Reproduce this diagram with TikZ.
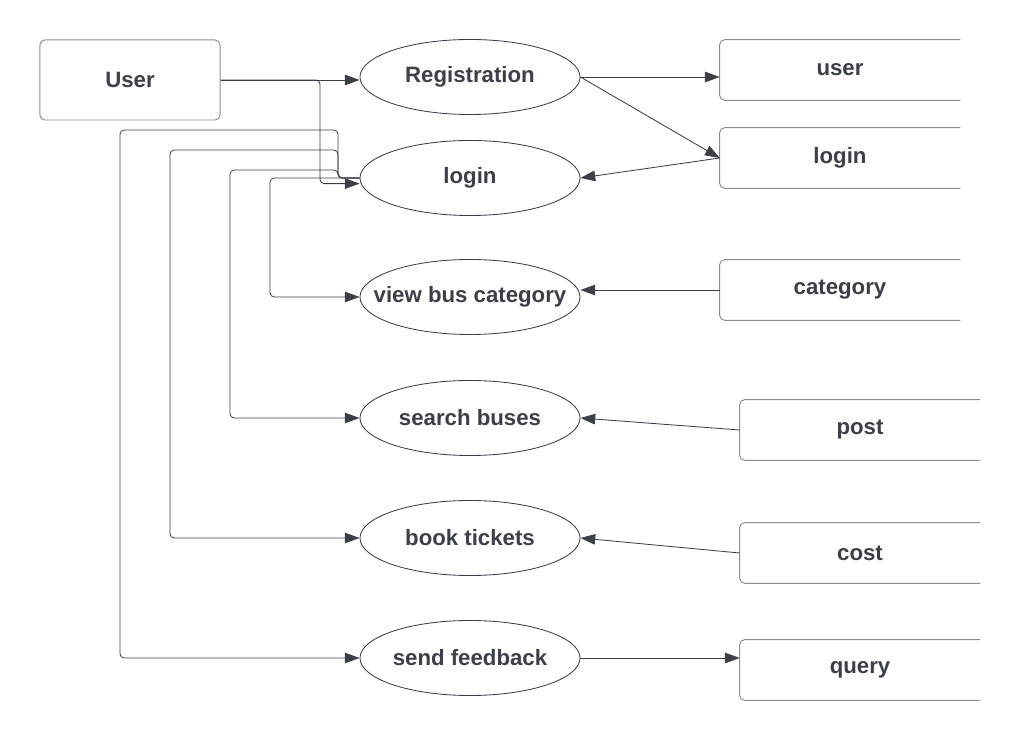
\documentclass[tikz,border=0pt]{standalone}
\usepackage{fontspec}
\setmainfont{Liberation Sans}
\usetikzlibrary{shapes.geometric,arrows.meta}
\definecolor{ink}{HTML}{3A3F48}
\definecolor{rim}{HTML}{8A8D93}
\tikzset{
  label font/.style={font=\bfseries\fontsize{15.8}{18}\selectfont,text=ink},
  process/.style={ellipse,draw=ink,line width=0.6pt,minimum width=5.5cm,minimum height=1.875cm,inner xsep=-0.8cm,inner ysep=0pt,label font},
  entity/.style={rectangle,draw=rim,rounded corners=3.5pt,line width=0.7pt,minimum width=4.5cm,minimum height=2cm,label font},
  store/.style={rectangle,minimum width=6cm,minimum height=1.5cm,label font},
  flow/.style={draw=ink,line width=0.6pt,-{Triangle[length=10.5pt,width=7.5pt]},rounded corners=3pt},
}
\begin{document}
\begin{tikzpicture}[x=0.025cm,y=-0.025cm]
  \useasboundingbox (0,0) rectangle (1020,740);
  % external entity
  \node[entity] (usr) at (130,80) {User};
  % processes
  \node[process] (reg) at (470,77) {Registration};
  \node[process] (login) at (470,178) {login};
  \node[process] (view) at (470,297) {view bus category};
  \node[process] (search) at (470,418) {search buses};
  \node[process] (book) at (470,538) {book tickets};
  \node[process] (feedback) at (470,658) {send feedback};
  % data stores
  \node[store] (userdb) at (840,70) {user};
  \node[store] (logindb) at (840,158) {login};
  \node[store] (catdb) at (840,290) {category};
  \node[store] (postdb) at (860,430) {post};
  \node[store] (costdb) at (860,553) {cost};
  \node[store] (querydb) at (860,670) {query};
  \foreach \s in {userdb,logindb,catdb,postdb,costdb,querydb}
    \draw[rim,line width=0.7pt,rounded corners=3.5pt]
      (\s.north east) -- (\s.north west) -- (\s.south west) -- (\s.south east);

  % flows
  \draw[flow] (usr.east) -- (usr.east -| reg.west);
  \draw[flow] (usr.east) -- (320,80) |- ([yshift=-4pt]login.west);
  \draw[flow] (reg.east) -- (userdb.west |- reg.east);
  \draw[flow] (reg.east) -- (logindb.west);
  \draw[flow] (logindb.west) -- (login.east);
  \draw[flow] (login.west) -- (270,178) |- (view.west);
  \draw[flow] (login.west) -- (338,178) |- (230,170) |- (search.west);
  \draw[flow] (login.west) -- (338,178) |- (170,150) |- (book.west);
  \draw[flow] (login.west) -- (338,178) |- (120,130) |- (feedback.west);
  \draw[flow] (catdb.west) -- (catdb.west -| view.east);
  \draw[flow] (postdb.west) -- (search.east);
  \draw[flow] (costdb.west) -- (book.east);
  \draw[flow] (feedback.east) -- (feedback.east -| querydb.west);
\end{tikzpicture}
\end{document}
